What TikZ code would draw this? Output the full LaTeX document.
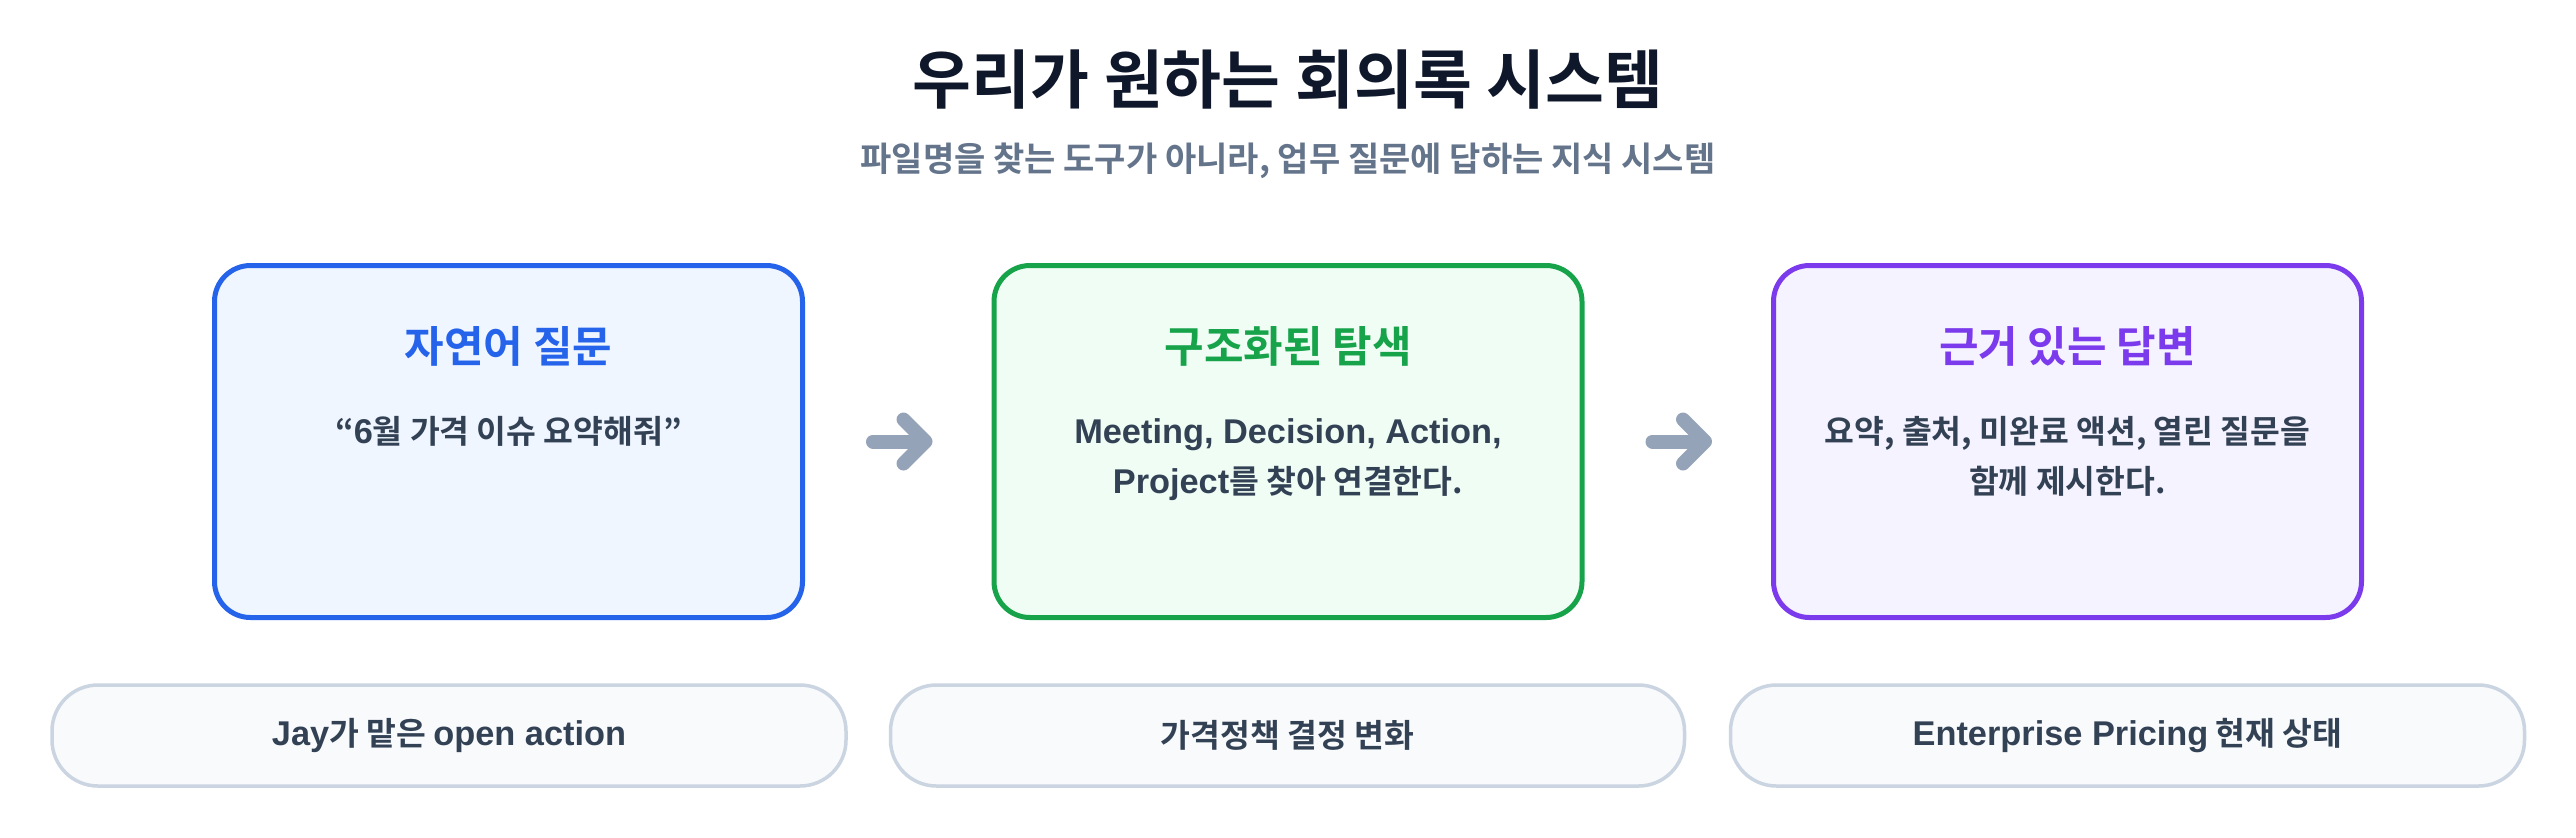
\documentclass[tikz,border=0pt]{standalone}
\usepackage{fontspec}
\setmainfont{Noto Sans CJK KR}[BoldFont={Noto Sans CJK KR Bold}]
\newfontfamily\latfont{Liberation Sans}[Scale=1.06]
\newcommand\lt[1]{{\latfont\bfseries #1}}
\usetikzlibrary{arrows.meta}
\definecolor{titlec}{HTML}{0F172A}
\definecolor{subc}{HTML}{64748B}
\definecolor{bodyc}{HTML}{334155}
\definecolor{blueline}{HTML}{2563EB}
\definecolor{bluebg}{HTML}{EFF6FF}
\definecolor{greenline}{HTML}{16A34A}
\definecolor{greenbg}{HTML}{F0FDF4}
\definecolor{purpleline}{HTML}{7C3AED}
\definecolor{purplebg}{HTML}{F5F3FF}
\definecolor{arrowc}{HTML}{94A3B8}
\definecolor{pillline}{HTML}{CBD5E1}
\definecolor{pillbg}{HTML}{F8FAFC}
\tikzset{
  card/.style={draw, line width=2.5pt, rounded corners=18pt, minimum width=294pt, minimum height=176pt, inner sep=0pt},
  cardhead/.style={font=\bfseries\fontsize{21.5}{26}\selectfont, anchor=center, inner sep=0pt},
  cardbody/.style={font=\bfseries\fontsize{16.2}{25}\selectfont, text=bodyc, anchor=base, inner sep=0pt},
  pill/.style={draw=pillline, fill=pillbg, line width=1.75pt, rounded corners=23pt, minimum width=397pt, minimum height=50.5pt, inner sep=0pt, text=bodyc, font=\bfseries\fontsize{16.2}{20}\selectfont},
  flowarrow/.style={draw=arrowc, line width=7pt, line cap=round, shorten <=34pt, shorten >=29.5pt, -{Straight Barb[length=11pt, width=22pt, round]}}
}
\begin{document}
\begin{tikzpicture}[x=0.5pt, y=-0.5pt]
\useasboundingbox[fill=white] (0,0) rectangle (2576,837);

% title
\node[font=\bfseries\fontsize{32}{38}\selectfont, text=titlec, inner sep=0pt] (title) at (1288,80) {우리가 원하는 회의록 시스템};
\node[font=\bfseries\fontsize{17}{22}\selectfont, text=subc, inner sep=0pt] (subtitle) at (1288,161) {파일명을 찾는 도구가 아니라, 업무 질문에 답하는 지식 시스템};

% cards
\node[card, draw=blueline, fill=bluebg] (b1) at (508.5,441.5) {};
\node[card, draw=greenline, fill=greenbg] (b2) at (1288,441.5) {};
\node[card, draw=purpleline, fill=purplebg] (b3) at (2067.5,441.5) {};

\node[cardhead, text=blueline] (h1) at (508.5,346) {자연어 질문};
\node[cardhead, text=greenline] (h2) at (1288,346) {구조화된 탐색};
\node[cardhead, text=purpleline] (h3) at (2067.5,346) {근거 있는 답변};

\node[cardbody] (t1a) at (508.5,443) {“\lt{6}월 가격 이슈 요약해줘”};
\node[cardbody] (t2a) at (1288,443) {\lt{Meeting, Decision, Action,}};
\node[cardbody] (t2b) at (1288,493) {\lt{Project}를 찾아 연결한다.};
\node[cardbody] (t3a) at (2067.5,443) {요약, 출처, 미완료 액션, 열린 질문을};
\node[cardbody] (t3b) at (2067.5,493) {함께 제시한다.};

% arrows
\draw[flowarrow] (b1.east) -- (b2.west);
\draw[flowarrow] (b2.east) -- (b3.west);

% pills
\node[pill] (p1) at (449,735.5) {\lt{Jay}가 맡은 \lt{open action}};
\node[pill] (p2) at (1287.5,735.5) {가격정책 결정 변화};
\node[pill] (p3) at (2127.5,735.5) {\lt{Enterprise Pricing} 현재 상태};
\end{tikzpicture}
\end{document}
